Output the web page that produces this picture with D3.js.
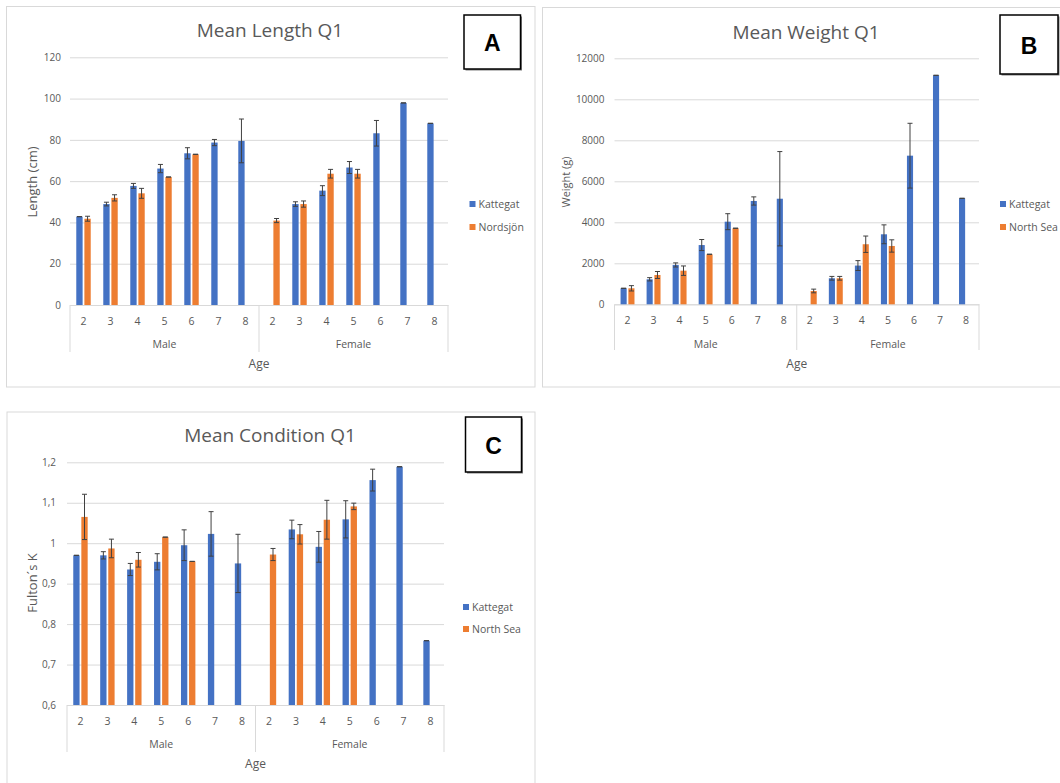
<!DOCTYPE html>
<html>
<head>
<meta charset="utf-8">
<script src="https://cdn.jsdelivr.net/npm/d3@7"></script>
<style>
body { margin: 0; background: #fff; }
svg { display: block; font-family: "Open Sans", sans-serif; }
</style>
</head>
<body>
<script>
"use strict";

/////// data

var ages = ["2", "3", "4", "5", "6", "7", "8"];
var sexes = ["Male", "Female"];

// Male 2..8 then Female 2..8, null = no bar
var lengthKattegat    = [42.8, 48.9, 57.7, 66.1, 73.5, 78.7, 79.5,  null, 48.9, 55.4, 66.6, 83.2, 97.9, 88.0];
var lengthKattegatErr = [0,    0.9,  1.2,  2,    2.7,  1.5,  10.6,  null, 1.1,  2.4,  2.9,  6.2,  0,    0];
var lengthNordsjon    = [41.8, 51.9, 54.1, 62,   73,   null, null,  40.9, 48.9, 63.6, 63.6, null, null, null];
var lengthNordsjonErr = [1.2,  1.5,  2.4,  0,    0,    null, null,  1,    1.5,  2.1,  2.1,  null, null, null];

var weightKattegat    = [780, 1220, 1920, 2890, 4030, 5040, 5150, null, 1270, 1890, 3415, 7250, 11170, 5170];
var weightKattegatErr = [0,   80,   100,  270,  390,  200,  2300, null, 90,   240,  460,  1580, 0,     0];
var weightNorthSea    = [780, 1430, 1640, 2440, 3710, null, null, 650,  1270, 2930, 2845, null, null,  null];
var weightNorthSeaErr = [130, 170,  230,  0,    0,    null, null, 90,   90,   400,  300,  null, null,  null];

var condKattegat    = [0.970, 0.970, 0.935, 0.954, 0.995, 1.023, 0.950, null,  1.034, 0.991, 1.059, 1.156, 1.189, 0.759];
var condKattegatErr = [0,     0.009, 0.015, 0.020, 0.038, 0.055, 0.072, null,  0.023, 0.038, 0.046, 0.027, 0,     0];
var condNorthSea    = [1.065, 0.987, 0.959, 1.015, 0.955, null,  null,  0.972, 1.022, 1.058, 1.091, null,  null,  null];
var condNorthSeaErr = [0.056, 0.023, 0.018, 0,     0,     null,  null,  0.015, 0.024, 0.048, 0.008, null,  null,  null];

var lengthTicks = [0, 20, 40, 60, 80, 100, 120];
var weightTicks = [0, 2000, 4000, 6000, 8000, 10000, 12000];
var condTicks   = [0.6, 0.7, 0.8, 0.9, 1.0, 1.1, 1.2];

var colours = ["#4472C4", "#ED7D31"];
var grid = "#d9d9d9";
var txt = "#595959";

var commaLocale = d3.formatLocale({ decimal: ",", thousands: " ", grouping: [3], currency: ["", ""] });

var svg = d3.select("body").append("svg")
    .attr("width", 1060)
    .attr("height", 783);

var cats = [];
sexes.forEach(s => ages.forEach(a => cats.push(s + "-" + a)));

function panel(p) {
  var g = svg.append("g");

  // frame
  g.append("rect")
      .attr("x", p.frame[0]).attr("y", p.frame[1])
      .attr("width", p.frame[2]).attr("height", p.frame[3])
      .attr("fill", "#fff").attr("stroke", grid);

  var x = d3.scaleBand().domain(cats).range([p.x0, p.x1]);
  var sub = d3.scaleBand().domain([0, 1])
      .range([0.2325 * x.bandwidth(), 0.7675 * x.bandwidth()])
      .paddingInner(0.2167);
  var y = d3.scaleLinear().domain(p.domain).range([p.yBase, p.yTop]);

  // y axis + gridlines
  var ya = g.append("g")
      .attr("transform", "translate(" + p.x0 + ",0)")
      .call(d3.axisLeft(y).tickValues(p.ticks).tickFormat(p.fmt)
        .tickSizeInner(-(p.x1 - p.x0)).tickSizeOuter(0).tickPadding(p.pad));
  ya.select(".domain").remove();
  ya.selectAll(".tick line").attr("stroke", grid);
  ya.selectAll(".tick text").attr("fill", txt).style("font-size", "10px").style("font-family", "Open Sans");

  // category axis
  var xa = g.append("g")
      .attr("transform", "translate(0," + p.yBase + ")")
      .call(d3.axisBottom(x).tickSize(0).tickFormat(d => d.split("-")[1]));
  xa.select(".domain").attr("stroke", grid);
  xa.selectAll(".tick text").attr("fill", txt).attr("y", 0).attr("dy", (p.tickY - p.yBase) + "px")
      .style("font-size", "10.5px").style("font-family", "Open Sans")
      .attr("dominant-baseline", "central");

  // group separators + labels
  var edges = [p.x0];
  sexes.forEach(s => edges.push(x(s + "-8") + x.bandwidth()));
  g.selectAll(".sep").data(edges).enter().append("line")
      .attr("x1", d => d).attr("x2", d => d)
      .attr("y1", p.yBase).attr("y2", p.sepBottom)
      .attr("stroke", grid);
  g.selectAll(".grp").data(sexes).enter().append("text")
      .attr("x", s => (x(s + "-2") + x(s + "-8") + x.bandwidth()) / 2)
      .attr("y", p.groupY)
      .attr("dominant-baseline", "central")
      .attr("text-anchor", "middle")
      .attr("fill", txt).style("font-size", "10.5px")
      .text(s => s);

  g.append("text")
      .attr("x", (p.x0 + p.x1) / 2).attr("y", p.ageY)
      .attr("dominant-baseline", "central").attr("text-anchor", "middle")
      .attr("fill", txt).style("font-size", "12px")
      .text("Age");

  // y title
  g.append("text")
      .attr("transform", "translate(" + p.yTitle[0] + "," + p.yTitle[1] + ") rotate(-90)")
      .attr("dominant-baseline", "central").attr("text-anchor", "middle")
      .attr("fill", txt).style("font-size", p.yTitleSize)
      .text(p.yLabel);

  // bars + error bars
  p.series.forEach((s, si) => {
    var data = cats.map((c, i) => ({ c: c, v: s.values[i], e: s.err[i] })).filter(d => d.v != null);
    g.selectAll(".bar" + si).data(data).enter().append("rect")
        .attr("x", d => x(d.c) + sub(si))
        .attr("width", sub.bandwidth())
        .attr("y", d => y(d.v))
        .attr("height", d => p.yBase - y(d.v))
        .attr("fill", colours[si]);

    var eb = g.selectAll(".eb" + si).data(data.filter(d => d.e != null)).enter().append("g")
        .attr("transform", d => "translate(" + (x(d.c) + sub(si) + sub.bandwidth() / 2) + ",0)")
        .attr("stroke", "#404040").attr("stroke-width", 1);
    eb.append("line").attr("y1", d => y(d.v - d.e)).attr("y2", d => y(d.v + d.e));
    eb.append("line").attr("x1", -2.5).attr("x2", 2.5).attr("y1", d => y(d.v + d.e)).attr("y2", d => y(d.v + d.e));
    eb.append("line").attr("x1", -2.5).attr("x2", 2.5).attr("y1", d => y(d.v - d.e)).attr("y2", d => y(d.v - d.e));
  });

  // title
  g.append("text")
      .attr("x", p.titleX).attr("y", p.titleY)
      .attr("dominant-baseline", "central").attr("text-anchor", "middle")
      .attr("fill", txt).style("font-size", "19px")
      .text(p.title);

  // legend
  p.series.forEach((s, si) => {
    g.append("rect").attr("x", p.legX).attr("y", p.legY[si] - 3)
        .attr("width", 6).attr("height", 6).attr("fill", colours[si]);
    g.append("text").attr("x", p.legX + 9).attr("y", p.legY[si])
        .attr("dominant-baseline", "central")
        .attr("fill", txt).style("font-size", "10.5px")
        .text(s.name);
  });

  // letter box
  var b = p.box;
  g.append("rect").attr("x", b[0] + 1.5).attr("y", b[1] + 1.5).attr("width", b[2]).attr("height", b[3]).attr("fill", "#7f7f7f");
  g.append("rect").attr("x", b[0]).attr("y", b[1]).attr("width", b[2]).attr("height", b[3])
      .attr("fill", "#fff").attr("stroke", "#000").attr("stroke-width", 1.5);
  g.append("text")
      .attr("x", b[0] + b[2] / 2).attr("y", b[1] + b[3] / 2 + 1)
      .attr("dominant-baseline", "central").attr("text-anchor", "middle")
      .attr("fill", "#000").style("font-size", "23px").style("font-weight", "bold")
      .style("font-family", "Liberation Sans")
      .text(p.letter);
}

panel({
  frame: [6.5, 6.5, 528.5, 380.5],
  x0: 70, x1: 448, yTop: 57.3, yBase: 305,
  domain: [0, 120], ticks: lengthTicks, fmt: d3.format("d"), pad: 9,
  tickY: 321, groupY: 344, sepBottom: 352, ageY: 363,
  yLabel: "Length (cm)", yTitle: [32, 182], yTitleSize: "13px",
  title: "Mean Length Q1", titleX: 270, titleY: 30,
  legX: 469.5, legY: [204, 227],
  box: [464, 15, 56.5, 54], letter: "A",
  series: [
    { name: "Kattegat", values: lengthKattegat, err: lengthKattegatErr },
    { name: "Nordsjön", values: lengthNordsjon, err: lengthNordsjonErr }
  ]
});

panel({
  frame: [542.5, 7.5, 530, 379.5],
  x0: 614.5, x1: 979, yTop: 58.3, yBase: 304.3,
  domain: [0, 12000], ticks: weightTicks, fmt: d3.format("d"), pad: 10,
  tickY: 320, groupY: 343.5, sepBottom: 350, ageY: 363,
  yLabel: "Weight (g)", yTitle: [565.5, 182], yTitleSize: "11px",
  title: "Mean Weight Q1", titleX: 806, titleY: 32,
  legX: 1000, legY: [204, 227],
  box: [1000, 15, 58, 59], letter: "B",
  series: [
    { name: "Kattegat", values: weightKattegat, err: weightKattegatErr },
    { name: "North Sea", values: weightNorthSea, err: weightNorthSeaErr }
  ]
});

panel({
  frame: [7, 412, 528, 380],
  x0: 67, x1: 444, yTop: 462.3, yBase: 705,
  domain: [0.6, 1.2], ticks: condTicks, fmt: commaLocale.format(".1~f"), pad: 11,
  tickY: 721, groupY: 744, sepBottom: 752, ageY: 763.3,
  yLabel: "Fulton´s K", yTitle: [31.7, 583], yTitleSize: "13px",
  title: "Mean Condition Q1", titleX: 270, titleY: 435,
  legX: 463, legY: [607, 629],
  box: [465.5, 417, 56, 55], letter: "C",
  series: [
    { name: "Kattegat", values: condKattegat, err: condKattegatErr },
    { name: "North Sea", values: condNorthSea, err: condNorthSeaErr }
  ]
});
</script>
</body>
</html>
